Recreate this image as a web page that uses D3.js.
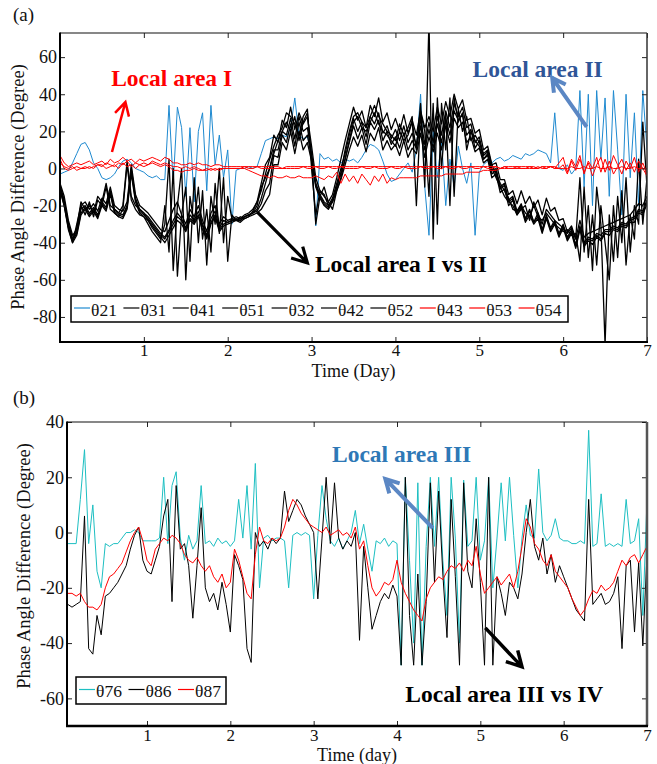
<!DOCTYPE html>
<html><head><meta charset="utf-8">
<script src="https://cdn.jsdelivr.net/npm/d3@7"></script>
<style>
body{margin:0;background:#fff}
svg{display:block;font-family:"Liberation Serif","Times New Roman",serif}
</style>
</head><body>
<svg id="c" width="657" height="764"></svg>
<script>
// ---------------- DATA: panel (a), one sample every 0.05 day from day 0 to day 7 ----------------
const topStep = 0.05;
const theta21 = [
 -3,-2,-1,3,8,13,14,10,3,0,
 -5,-6,-5,-3,1,4,5,3,0,-1,
 -2,-4,-5,-4,-6,-6,34,-8,33,22,
 -15,22,-18,20,30,-12,34,2,18,-5,
 10,-30,-1,0,0,1,0,1,8,15,
 16,17,16,18,17,22,38,18,16,17,
 10,-31,8,5,6,4,5,3,5,4,
 5,3,6,10,13,12,10,4,-3,-7,
 -6,-3,0,3,-2,10,40,-10,-36,20,
 -5,15,-20,5,-10,12,0,-8,3,-36,
 -2,2,4,3,5,6,4,5,7,6,
 5,8,7,8,10,9,8,3,30,0,
 -1,2,-3,0,42,-10,40,-20,42,5,
 38,-15,42,10,-25,40,-5,30,-20,42,
 10];
const theta31 = [
 -10,-18,-30,-38,-32,-18,-22,-20,-24,-15,
 -18,-8,-20,-22,-24,-20,4,-15,-20,-22,
 -24,-28,-32,-35,-38,-30,5,-55,-20,0,
 -60,-15,-30,-10,-38,-22,-45,-8,-35,-5,
 -50,-25,-28,-27,-26,-25,-24,-20,-10,-5,
 0,8,15,20,25,20,28,15,25,30,
 5,-30,-15,-10,-18,-22,-12,-5,5,15,
 25,28,22,20,25,30,24,20,18,15,
 12,20,15,18,25,10,35,-10,80,-38,
 38,0,30,-20,38,25,30,10,20,15,
 12,5,8,0,-5,-10,-15,-18,-20,-25,
 -22,-20,-28,-18,-24,-30,-22,-25,-28,-30,
 -32,-35,-32,-38,-5,-45,-20,-55,-10,-30,
 -95,-25,-50,-15,-40,-5,-45,-20,-30,25,
 -10];
const theta41 = [
 -8,-15,-28,-36,-33,-20,-18,-22,-19,-23,
 -16,-19,-10,-20,-22,-23,-18,2,-14,-20,
 -22,-24,-27,-30,-33,-34,-28,-22,-18,-25,
 -30,-22,-26,-20,-28,-34,-24,-20,-30,-26,
 -28,-27,-26,-27,-25,-24,-22,-18,-8,2,
 6,18,14,26,22,33,21,30,24,28,
 12,-5,-12,-15,-18,-14,-5,5,15,24,
 33,26,31,22,34,28,38,25,30,21,
 27,20,29,19,26,18,31,22,28,20,
 33,24,36,28,40,32,37,26,27,19,
 21,10,12,2,3,-6,-6,-14,-12,-19,
 -12,-19,-15,-21,-17,-25,-16,-23,-21,-28,
 -27,-34,-31,-38,-28,-37,-35,-34,-33,-32,
 -31,-30,-29,-28,-27,-26,-25,-22,-19,-20,
 -15];
const theta51 = [
 -9,-17,-30,-38,-34,-22,-20,-24,-21,-25,
 -18,-21,-12,-22,-24,-25,-20,0,-16,-22,
 -24,-26,-29,-32,-35,-37,-33,-28,-24,-27,
 -32,-25,-28,-23,-30,-36,-27,-23,-32,-28,
 -29,-28,-27,-28,-26,-25,-24,-22,-16,-8,
 0,10,10,20,18,27,16,28,20,22,
 8,-8,-14,-18,-20,-16,-8,0,8,18,
 27,20,25,17,28,24,30,19,23,16,
 21,15,23,14,19,13,27,13,25,14,
 28,18,31,22,35,28,33,22,24,14,
 17,7,9,-1,0,-10,-8,-17,-15,-23,
 -19,-27,-22,-29,-24,-33,-25,-32,-28,-35,
 -30,-37,-33,-41,-31,-40,-37,-38,-35,-36,
 -33,-33,-31,-32,-29,-30,-27,-26,-22,-23,
 -17];
const theta32 = [
 -12,-20,-33,-40,-30,-20,-25,-18,-26,-17,
 -20,-10,-22,-24,-26,-22,2,-17,-22,-25,
 -26,-30,-34,-37,-40,-20,-45,0,-58,-25,
 -10,-50,-5,-40,-12,-52,-15,-30,0,-40,
 -15,-27,-28,-26,-27,-26,-23,-18,-12,-3,
 5,12,18,22,30,28,24,18,28,32,
 0,-25,-12,-14,-20,-18,-10,-2,10,20,
 28,30,25,22,28,34,28,24,20,18,
 15,24,18,22,28,-20,30,20,-15,35,
 -30,35,10,38,-15,32,20,28,15,18,
 14,8,10,2,-3,-8,-12,-16,-22,-23,
 -20,-24,-26,-20,-26,-28,-24,-27,-30,-32,
 -34,-33,-36,-35,-50,-10,-48,-25,-52,-20,
 -40,-60,-20,-48,-12,-52,-25,-38,5,-30,
 -5];
const theta42 = [
 -11,-20,-32,-40,-36,-25,-22,-26,-23,-27,
 -20,-23,-14,-24,-26,-27,-22,-3,-18,-24,
 -26,-28,-31,-34,-37,-40,-36,-32,-28,-30,
 -34,-28,-30,-26,-33,-38,-30,-26,-34,-31,
 -30,-29,-28,-29,-27,-26,-25,-24,-22,-18,
 -14,2,2,14,10,20,8,20,10,14,
 4,-10,-16,-20,-22,-18,-12,-6,2,10,
 17,12,18,9,19,15,22,10,15,10,
 13,7,15,6,11,8,19,6,17,9,
 19,10,23,14,27,22,25,14,17,9,
 11,3,5,-5,-3,-13,-11,-20,-17,-25,
 -21,-29,-25,-30,-27,-35,-27,-34,-30,-37,
 -32,-39,-35,-43,-33,-42,-39,-41,-37,-39,
 -35,-36,-33,-34,-31,-32,-29,-29,-24,-25,
 -19];
const theta52 = [
 -10,-19,-31,-39,-35,-24,-21,-25,-22,-26,
 -19,-22,-13,-23,-25,-26,-21,-1,-17,-23,
 -25,-27,-30,-33,-36,-38,-34,-30,-26,-28,
 -33,-27,-29,-25,-31,-37,-29,-25,-33,-30,
 -29,-28,-28,-28,-26,-25,-24,-23,-19,-12,
 -8,7,6,18,14,24,12,25,15,18,
 6,-9,-15,-19,-21,-17,-10,-3,5,14,
 23,16,22,13,25,21,26,15,20,13,
 17,11,19,10,15,11,23,10,21,11,
 24,14,27,18,31,26,29,18,21,11,
 15,5,7,-3,-1,-11,-9,-18,-16,-24,
 -20,-28,-23,-29,-26,-34,-26,-33,-29,-36,
 -31,-38,-34,-42,-32,-41,-38,-39,-36,-38,
 -34,-34,-32,-33,-30,-31,-28,-27,-23,-24,
 -18];
const theta43 = [
 7,3,1,2,3,2,3,4,2,3,
 4,2,5,3,4,6,4,5,3,5,
 4,5,6,5,4,6,5,3,3,2,
 2,3,2,3,2,2,1,2,2,1,
 1,1,1,1,1,1,1,1,1,1,
 1,1,1,0,1,1,1,1,1,1,
 1,1,1,1,1,1,1,1,1,1,
 1,1,1,1,1,1,1,1,1,1,
 1,1,1,1,1,1,1,1,1,1,
 1,1,1,1,1,1,1,1,1,1,
 1,1,1,1,1,0,1,1,1,1,
 1,1,1,1,0,1,1,1,1,0,
 0,0,1,0,0,1,0,0,1,0,
 0,1,0,0,1,0,0,1,0,0,
 0];
const theta53 = [
 5,0,-1,0,1,0,0,1,0,2,
 1,3,2,1,3,2,4,1,3,2,
 3,2,4,3,2,3,2,1,1,0,
 1,0,1,0,-1,0,-1,0,-1,0,
 0,0,0,0,0,-1,-2,-3,-4,-4,
 -5,-4,-5,-5,-4,-5,-5,-4,-5,-5,
 -5,-4,-5,-6,-4,-5,-2,-8,-3,-7,
 -4,-8,-3,-6,-9,-4,-7,-3,-8,-5,
 -6,-5,-5,-5,-5,-5,-4,-4,-4,-4,
 -4,-4,-3,-3,-3,-3,-3,-2,-2,-2,
 -2,-1,-1,-1,-1,0,0,0,0,0,
 0,0,0,0,0,1,0,1,0,3,
 6,-2,5,1,7,-3,4,0,6,-2,
 5,-1,7,2,-3,4,0,6,-2,3,
 -3];
const theta54 = [
 3,1,0,1,-1,0,1,0,1,2,
 2,0,1,2,0,3,1,2,0,2,
 1,2,3,2,1,2,1,-1,-1,-2,
 -1,-1,0,-1,-1,-1,0,-1,0,0,
 0,0,0,0,1,0,0,1,0,0,
 0,0,0,0,0,0,0,0,1,0,
 0,1,0,0,1,0,0,1,0,0,
 0,0,1,0,0,1,0,0,0,1,
 0,0,1,0,0,0,1,0,0,1,
 0,0,1,0,0,1,0,0,1,0,
 0,1,0,0,1,0,1,0,0,1,
 0,0,1,0,1,0,0,1,0,0,
 2,-3,4,-1,5,-2,3,-4,2,6,
 -2,4,-3,1,5,-1,3,-2,4,0,
 -4];

// ---------------- DATA: panel (b), one sample every 0.05 day from day 0.05 to day 7 ----------------
const botStep = 0.05;
const theta76 = [
 -4,-4,-4,12,30,-4,10,-14,-20,-4,
 -5,-4,-4,-2,0,0,1,0,-3,-3,
 -3,-3,-2,20,-4,17,22,-2,-10,-1,
 -6,-3,17,-4,-3,-5,-2,-4,-3,-5,
 -3,12,-2,17,-6,25,-20,-2,-1,-3,
 -2,-2,-3,-20,-1,0,-1,0,-1,-24,
 -1,17,5,-3,-5,-2,-6,-3,0,8,
 -4,3,-6,-14,-3,-4,-2,-5,-3,-4,
 -48,20,-10,-40,18,-48,-5,20,-5,20,
 -10,-30,20,-2,-40,19,-5,-3,20,-10,
 -3,20,-20,-2,18,-3,20,-1,-20,-2,
 10,-1,-2,23,0,-3,-1,5,-2,-3,
 -3,-4,-4,-3,-4,37,-5,-4,14,-5,
 -4,-5,-4,-5,12,-4,-3,5,-30,12];
const theta86 = [
 -26,-27,-26,-25,6,-42,-44,-30,-37,-23,
 -22,-20,-18,-15,-12,-6,-1,2,-10,-14,
 -15,-10,-5,6,12,-25,17,-6,-4,-12,
 -31,-12,9,-20,-25,-22,-28,-18,-26,-36,
 -8,-12,-17,-42,-47,0,-5,-3,-6,-2,
 -4,-2,15,4,8,12,10,6,3,0,
 -24,-2,20,-4,18,-2,-6,-3,-5,0,
 -39,-5,-20,-35,-30,-25,-22,-24,-19,-23,
 -48,20,-30,-48,-15,-48,-25,18,-18,15,
 -15,-38,12,-16,-48,18,-14,-20,5,-18,
 -48,20,-48,-16,-22,-30,-18,-20,-24,-15,
 0,12,-5,-10,-2,-15,-8,-18,-12,-16,
 -20,-24,-28,-30,-32,12,-26,-24,-22,-26,
 -25,-22,-16,-42,-12,-10,-36,-11,-41,-8];
const theta87 = [
 -22,-22,-23,-22,-25,-27,-27,-28,-26,-20,
 -16,-15,-13,-11,-7,-3,0,2,-3,-10,
 -12,-6,-4,-2,-3,-1,-2,-4,-8,-10,
 -11,-9,-12,-14,-12,-16,-18,-15,-20,-18,
 -6,-10,-16,-22,-24,-8,2,-3,-4,-2,
 -3,-2,2,8,12,10,7,5,3,2,
 1,0,2,-1,0,1,-1,0,-2,2,
 -6,-3,-12,-20,-23,-21,-18,-19,-17,-10,
 -18,-22,-25,-28,-30,-32,-24,-20,-18,-16,
 -17,-14,-12,-13,-11,-14,-10,-12,-5,-15,
 -22,-20,-18,-16,-19,-17,-15,-20,-14,-5,
 5,2,-4,-6,-10,-12,-8,-14,-16,-18,
 -20,-24,-27,-30,-28,-24,-21,-22,-19,-21,
 -20,-18,-14,-10,-12,-9,-8,-11,-8,-5];

// ---------------- AXES / LABELS ----------------
const xTicks = [1,2,3,4,5,6,7];
const topYTicks = [60,40,20,0,-20,-40,-60,-80];
const botYTicks = [40,20,0,-20,-40,-60];

const BLUE="#1f8ad0", BLACK="#000000", RED="#ff0000", CYAN="#1dbfc2";

const topSeries = [
 {label:"θ21",values:theta21,color:BLUE,w:1},
 {label:"θ31",values:theta31,color:BLACK,w:1.3},
 {label:"θ41",values:theta41,color:BLACK,w:1.3},
 {label:"θ51",values:theta51,color:BLACK,w:1.3},
 {label:"θ32",values:theta32,color:BLACK,w:1.3},
 {label:"θ42",values:theta42,color:BLACK,w:1.3},
 {label:"θ52",values:theta52,color:BLACK,w:1.3},
 {label:"θ43",values:theta43,color:RED,w:1},
 {label:"θ53",values:theta53,color:RED,w:1},
 {label:"θ54",values:theta54,color:RED,w:1}
];
const botSeries = [
 {label:"θ76",values:theta76,color:CYAN,w:1},
 {label:"θ86",values:theta86,color:BLACK,w:1},
 {label:"θ87",values:theta87,color:RED,w:1}
];

const svg = d3.select("#c");

function drawArrow(g,x1,y1,x2,y2,color,w,head){
  const a=Math.atan2(y2-y1,x2-x1), s=0.5;
  const p1=[x2-head*Math.cos(a-s), y2-head*Math.sin(a-s)];
  const p2=[x2-head*Math.cos(a+s), y2-head*Math.sin(a+s)];
  g.append("path").attr("d",`M${x1},${y1}L${x2},${y2}M${p1[0]},${p1[1]}L${x2},${y2}L${p2[0]},${p2[1]}`)
   .attr("fill","none").attr("stroke",color).attr("stroke-width",w).attr("stroke-linejoin","miter");
}

function panel(o){
  const x=d3.scaleLinear().domain(o.xDomain).range([o.left,o.right]);
  const y=d3.scaleLinear().domain(o.yDomain).range([o.bottom,o.top]);
  const g=svg.append("g");
  const clipId=o.id+"-clip";
  svg.append("clipPath").attr("id",clipId).append("rect")
    .attr("x",o.left).attr("y",o.top).attr("width",o.right-o.left).attr("height",o.bottom-o.top);
  const lg=g.append("g").attr("clip-path",`url(#${clipId})`);
  const line=d3.line().x(d=>x(d[0])).y(d=>y(d[1]));
  o.series.forEach(s=>{
    const pts=s.values.map((v,i)=>[o.time(i),v]);
    lg.append("path").datum(pts).attr("d",line).attr("fill","none")
      .attr("stroke",s.color).attr("stroke-width",s.w).attr("stroke-linejoin","round");
  });
  const fmt=d=>String(d);
  const ax=[
    [d3.axisBottom(x).tickValues(xTicks).tickFormat(fmt).tickSize(-5).tickSizeOuter(0).tickPadding(o.xPad),`translate(0,${o.bottom})`,17],
    [d3.axisTop(x).tickValues(xTicks).tickFormat("").tickSize(-5).tickSizeOuter(0),`translate(0,${o.top})`,17],
    [d3.axisLeft(y).tickValues(o.yTicks).tickFormat(fmt).tickSize(-5).tickSizeOuter(0).tickPadding(3),`translate(${o.left},0)`,18],
    [d3.axisRight(y).tickValues(o.yTicks).tickFormat("").tickSize(-5).tickSizeOuter(0),`translate(${o.right},0)`,18]
  ];
  ax.forEach(([a,t,fs])=>{
    const ag=g.append("g").attr("transform",t).call(a);
    ag.select(".domain").remove();
    ag.selectAll("text").attr("font-size",fs).attr("font-family","Liberation Serif").attr("fill","#111");
    ag.selectAll("line").attr("stroke","#222");
  });
  // frame
  g.append("line").attr("x1",o.left).attr("x2",o.right).attr("y1",o.top).attr("y2",o.top).attr("stroke","#111").attr("stroke-width",1.2);
  g.append("line").attr("x1",o.right).attr("x2",o.right).attr("y1",o.top).attr("y2",o.bottom).attr("stroke",o.rightColor).attr("stroke-width",o.rightW);
  g.append("line").attr("x1",o.left).attr("x2",o.left).attr("y1",o.top-0.6).attr("y2",o.bottom+1).attr("stroke","#000").attr("stroke-width",2);
  g.append("line").attr("x1",o.left-1).attr("x2",o.right+1).attr("y1",o.bottom).attr("y2",o.bottom).attr("stroke","#000").attr("stroke-width",o.bottomW);
  // axis titles
  g.append("text").attr("x",(o.left+o.right)/2).attr("y",o.xTitleY).attr("text-anchor","middle")
   .attr("font-size",18).attr("fill","#111").text(o.xTitle);
  g.append("text").attr("transform",`translate(${o.yTitleX},${o.yTitleC}) rotate(-90)`).attr("text-anchor","middle")
   .attr("font-size",18.5).attr("fill","#111").text("Phase Angle Difference (Degree)");
  g.append("text").attr("x",13).attr("y",o.tagY).attr("font-size",19).attr("fill","#111").text(o.tag);
  // legend
  const L=o.legend;
  g.append("rect").attr("x",L.x).attr("y",L.y).attr("width",L.w).attr("height",L.h)
   .attr("fill","#fff").attr("stroke","#000").attr("stroke-width",1.5);
  o.series.forEach((s,i)=>{
    const lx=L.x+3+i*L.step, cy=L.y+L.h/2;
    g.append("line").attr("x1",lx).attr("x2",lx+16).attr("y1",cy-1).attr("y2",cy-1)
     .attr("stroke",s.color).attr("stroke-width",1.2);
    g.append("text").attr("x",lx+17).attr("y",cy+6.5).attr("font-size",17.5).attr("fill","#111").text(s.label);
  });
  // annotations (positioned in data coordinates)
  o.notes.forEach(n=>{
    g.append("text").attr("x",x(n.t)).attr("y",y(n.v)).attr("font-size",23.5).attr("font-weight","bold")
     .attr("fill",n.color).text(n.text);
    drawArrow(g,x(n.a[0]),y(n.a[1]),x(n.a[2]),y(n.a[3]),n.arrowColor,n.aw,n.head);
  });
}

panel({
  id:"a", left:60,right:647,top:33,bottom:342,
  xDomain:[0,7], yDomain:[-93.5,73], yTicks:topYTicks, xPad:2,
  time:i=>i*topStep, series:topSeries,
  rightColor:"#333", rightW:1.5, bottomW:2,
  xTitle:"Time (Day)", xTitleY:377, yTitleX:24, yTitleC:187, tag:"(a)", tagY:21,
  legend:{x:71,y:296,w:497,h:26,step:49.4},
  notes:[
    {text:"Local area I",t:0.61,v:44.4,color:"#ff0000",arrowColor:"#ff0000",a:[0.62,8.9,0.78,35.8],aw:2.5,head:15},
    {text:"Local area II",t:4.92,v:49.3,color:"#2f5597",arrowColor:"#5b87c4",a:[6.28,22.4,5.87,48.8],aw:4,head:15},
    {text:"Local area I vs II",t:3.04,v:-55.8,color:"#000",arrowColor:"#000",a:[2.35,-23.4,2.95,-50.9],aw:3.2,head:17}
  ]
});

panel({
  id:"b", left:67,right:647,top:422,bottom:726,
  xDomain:[0.04,7], yDomain:[-70,40], yTicks:botYTicks, xPad:3,
  time:i=>(i+1)*botStep, series:botSeries,
  rightColor:"#555", rightW:2.5, bottomW:2.5,
  xTitle:"Time (day)", xTitleY:761, yTitleX:30, yTitleC:566, tag:"(b)", tagY:404,
  legend:{x:76,y:677,w:150,h:27,step:49.5},
  notes:[
    {text:"Local area III",t:3.22,v:25.5,color:"#2e78b6",arrowColor:"#5b87c4",a:[4.43,1.6,3.86,19.4],aw:4,head:15},
    {text:"Local area III vs IV",t:4.1,v:-61.3,color:"#000",arrowColor:"#000",a:[5.06,-34.5,5.5,-48.6],aw:3.5,head:17}
  ]
});
</script>
</body></html>
